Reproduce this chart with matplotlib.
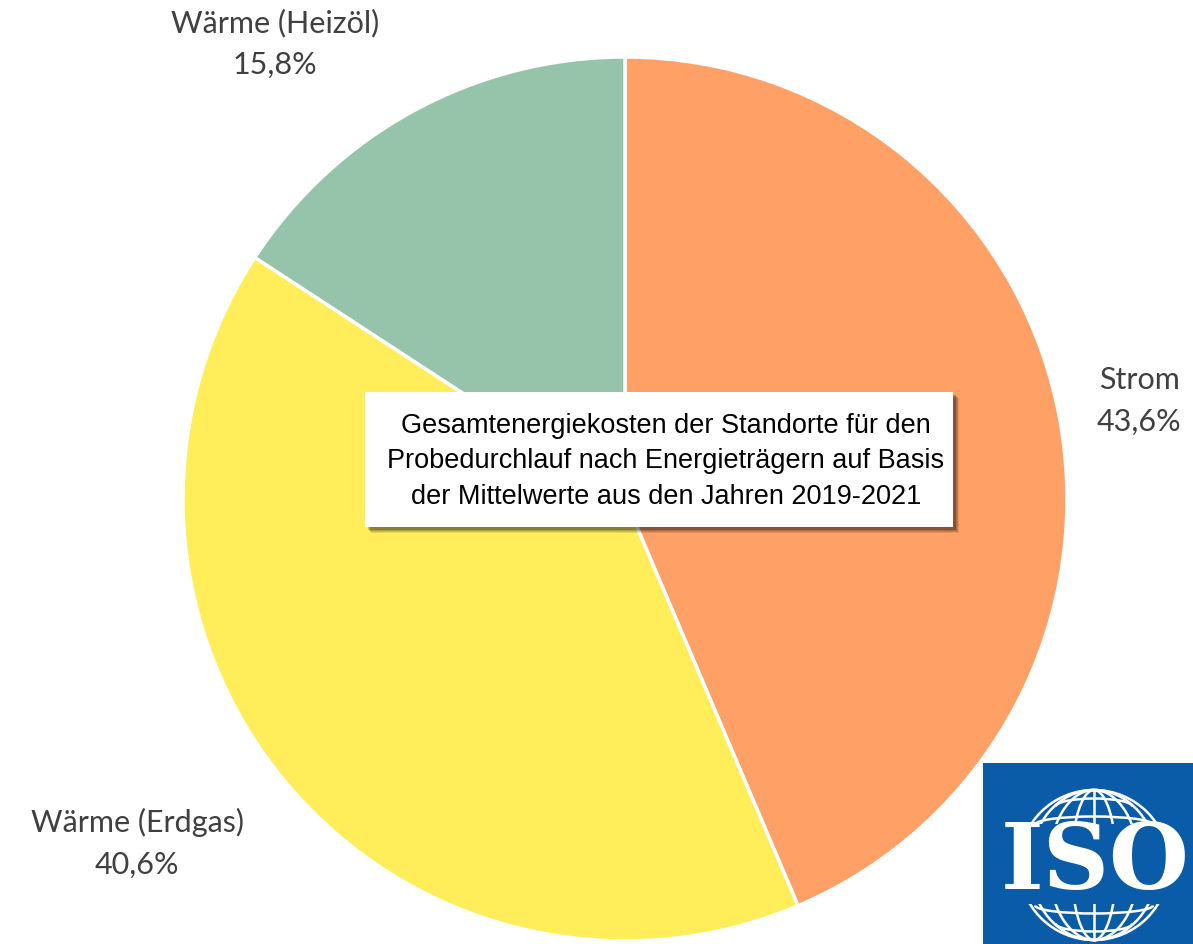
import matplotlib.pyplot as plt
import numpy as np
from matplotlib.patches import Rectangle, Ellipse, Arc

# energy cost shares (%)
sources = ['Strom', 'Wärme (Erdgas)', 'Wärme (Heizöl)']
shares = [43.6, 40.6, 15.8]
colors = ['#FFA066', '#FFEE5A', '#96C4AA']
title_text = ('Gesamtenergiekosten der Standorte für den\n'
              'Probedurchlauf nach Energieträgern auf Basis\n'
              'der Mittelwerte aus den Jahren 2019-2021')

W, H = 1193, 945
fig = plt.figure(figsize=(W / 100, H / 100), dpi=100)
ax = fig.add_axes([0, 0, 1, 1])

cx, cy, r = 625, H - 500, 442
ax.pie(shares, colors=colors, startangle=90, counterclock=False,
       center=(cx, cy), radius=r,
       wedgeprops=dict(edgecolor='white', linewidth=2.5))

# labels outside the pie
lab_font = dict(family=['Lato', 'DejaVu Sans'], fontsize=22, color='#404040',
                ha='center', va='center', linespacing=1.6)
label_pos = [(1139, H - 401), (137, H - 843), (275, H - 44)]
for name, val, (x, y) in zip(sources, shares, label_pos):
    ax.text(x, y, f'{name}\n{val:.1f}%'.replace('.', ','), **lab_font)

# title box with soft shadow
bx, by, bw, bh = 365, H - 528, 588, 135
for i, a in enumerate([0.10, 0.12, 0.15, 0.2]):
    off = 6 - i
    ax.add_patch(Rectangle((bx + off, by - off), bw, bh, facecolor='black',
                           alpha=a, edgecolor='none', zorder=4))
ax.add_patch(Rectangle((bx, by), bw, bh, facecolor='white',
                       edgecolor='none', zorder=5))
ax.text(bx + bw / 2 + 7, by + bh / 2 - 1, title_text, ha='center', va='center',
        family=['Liberation Sans Narrow', 'Liberation Sans'], fontsize=19.5,
        linespacing=1.47, color='black', zorder=6)

# ISO logo
blue = '#0B5CA8'
ax.add_patch(Rectangle((983, 0), W - 983, H - 764, facecolor=blue,
                       edgecolor='none', zorder=7))
gx, gy, gr = 1094, H - 866, 75
lw = 1.8
ax.add_patch(Ellipse((gx, gy), 2 * gr, 2 * gr, fill=False, edgecolor='white',
                     lw=lw, zorder=8))
for f in [0.3, 0.6, 0.85]:
    ax.add_patch(Ellipse((gx, gy), 2 * gr * f, 2 * gr, fill=False,
                         edgecolor='white', lw=lw, zorder=8))
ax.plot([gx, gx], [gy - gr, gy + gr], color='white', lw=lw, zorder=8)
for lat in [0.62, 0.86]:
    for s in (1, -1):
        yy = gy + s * gr * lat
        half = gr * np.sqrt(1 - lat ** 2)
        ax.add_patch(Arc((gx, yy - s * 6), 2 * half, 16,
                         theta1=0 if s > 0 else 180,
                         theta2=180 if s > 0 else 360,
                         edgecolor='white', lw=lw, zorder=8))
ax.add_patch(Rectangle((990, H - 905), 200, 80, facecolor=blue,
                       edgecolor='none', zorder=9))
ax.text(1095, H - 864, 'ISO', ha='center', va='center', color='white',
        family=['DejaVu Serif'], fontweight='bold',
        fontsize=66, zorder=10)

ax.set_xlim(0, W)
ax.set_ylim(0, H)
ax.set_aspect('equal')
ax.axis('off')
fig.savefig('out.png', dpi=100, facecolor='white')
